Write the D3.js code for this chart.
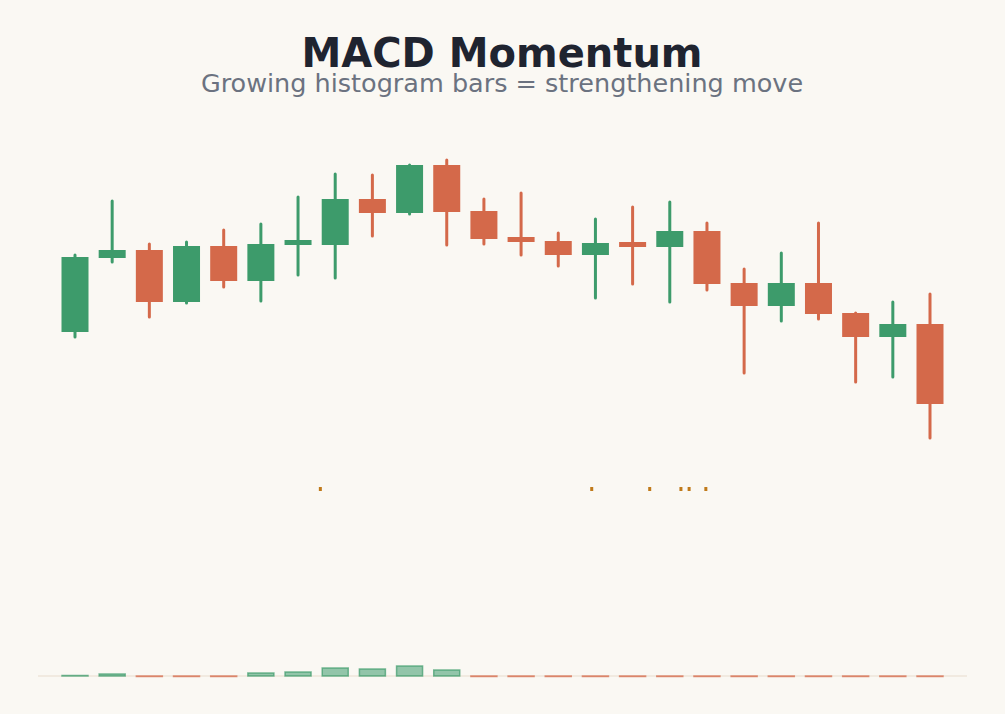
<!DOCTYPE html>
<html>
<head>
<meta charset="utf-8">
<script src="https://cdn.jsdelivr.net/npm/d3@7"></script>
<style>
  body { margin: 0; background: #faf8f3; }
  svg { display: block; font-family: "DejaVu Sans", sans-serif; }
</style>
</head>
<body>
<svg id="chart" width="1005" height="714"></svg>
<script>
// candle data (price units)
const opens  = [33.6, 48.4, 50.0, 39.6, 50.8, 43.8, 51.0, 51.0, 60.2, 57.4, 67.0, 57.8, 52.6, 51.8, 49.0, 51.6, 50.6, 53.8, 43.4, 38.8, 43.4, 37.4, 32.6, 35.2];
const closes = [48.6, 50.0, 39.6, 50.8, 43.8, 51.2, 52.0, 60.2, 57.4, 67.0, 57.6, 52.2, 51.6, 49.0, 51.4, 50.6, 53.8, 43.2, 38.8, 43.4, 37.2, 32.6, 35.2, 19.2];
const highs  = [49.0, 59.8, 51.2, 51.6, 54.0, 55.2, 60.6, 65.2, 65.0, 67.0, 68.0, 60.2, 61.4, 53.4, 56.2, 58.6, 59.6, 55.4, 46.2, 49.4, 55.4, 37.4, 39.6, 41.2];
const lows   = [32.6, 47.6, 36.6, 39.4, 42.6, 39.8, 45.0, 44.4, 52.8, 57.2, 51.0, 51.2, 49.0, 46.8, 40.4, 43.2, 39.6, 42.0, 25.4, 35.8, 36.2, 23.6, 24.6, 12.4];
// MACD histogram
const hist   = [0.1, 0.4, 0, 0, 0, 0.6, 0.8, 1.6, 1.4, 2.0, 1.2, 0, 0, 0, 0, 0, 0, 0, 0, 0, 0, 0, 0, 0];
const histUp = [1, 1, 0, 0, 0, 1, 1, 1, 1, 1, 1, 0, 0, 0, 0, 0, 0, 0, 0, 0, 0, 0, 0, 0];
// stray signal line points (fractional candle index)
const signalMarks = [6.6, 13.9, 15.46, 16.3, 16.52, 16.97];

const green = "#3d9b6b", red = "#d4694a";
const svg = d3.select("#chart");

svg.append("rect").attr("width", 1005).attr("height", 714).attr("fill", "#faf8f3");

svg.append("text").attr("x", 502).attr("y", 67).attr("text-anchor", "middle")
    .style("font-size", "40px").style("font-weight", "bold").attr("fill", "#1f2430")
    .text("MACD Momentum");
svg.append("text").attr("x", 502).attr("y", 92).attr("text-anchor", "middle")
    .style("font-size", "25.5px").attr("fill", "#6b7280")
    .text("Growing histogram bars = strengthening move");

const idx = d3.range(opens.length);
const x = d3.scaleLinear().domain([0, 23]).range([75, 930]);
const y = d3.scaleLinear().domain([0, 100]).range([500, 0]);
const bw = 27;

const candles = svg.append("g").selectAll("g").data(idx).join("g");
candles.append("line")
    .attr("x1", i => x(i)).attr("x2", i => x(i))
    .attr("y1", i => y(highs[i])).attr("y2", i => y(lows[i]))
    .attr("stroke", i => closes[i] >= opens[i] ? green : red)
    .attr("stroke-width", 3).attr("stroke-linecap", "round");
candles.append("rect")
    .attr("x", i => x(i) - bw / 2).attr("width", bw)
    .attr("y", i => y(Math.max(opens[i], closes[i])))
    .attr("height", i => Math.max(2, Math.abs(y(opens[i]) - y(closes[i]))))
    .attr("fill", i => closes[i] >= opens[i] ? green : red);

svg.append("g").selectAll("rect").data(signalMarks).join("rect")
    .attr("x", d => x(d) - 1.5).attr("y", 487).attr("width", 3).attr("height", 4)
    .attr("fill", "#c07a1a");

// histogram panel
const h = d3.scaleLinear().domain([0, 2]).range([676, 666]);
svg.append("line").attr("x1", 38).attr("x2", 967).attr("y1", 676).attr("y2", 676)
    .attr("stroke", "#e8dccd").attr("stroke-width", 1);
svg.append("g").selectAll("rect").data(idx).join("rect")
    .attr("x", i => x(i) - 13).attr("width", 26)
    .attr("y", i => h(hist[i]))
    .attr("height", i => Math.max(0.5, h(0) - h(hist[i])))
    .attr("fill", i => histUp[i] ? green : red).attr("fill-opacity", 0.55)
    .attr("stroke", i => histUp[i] ? green : red).attr("stroke-opacity", 0.7)
    .attr("stroke-width", 1.5);
</script>
</body>
</html>
